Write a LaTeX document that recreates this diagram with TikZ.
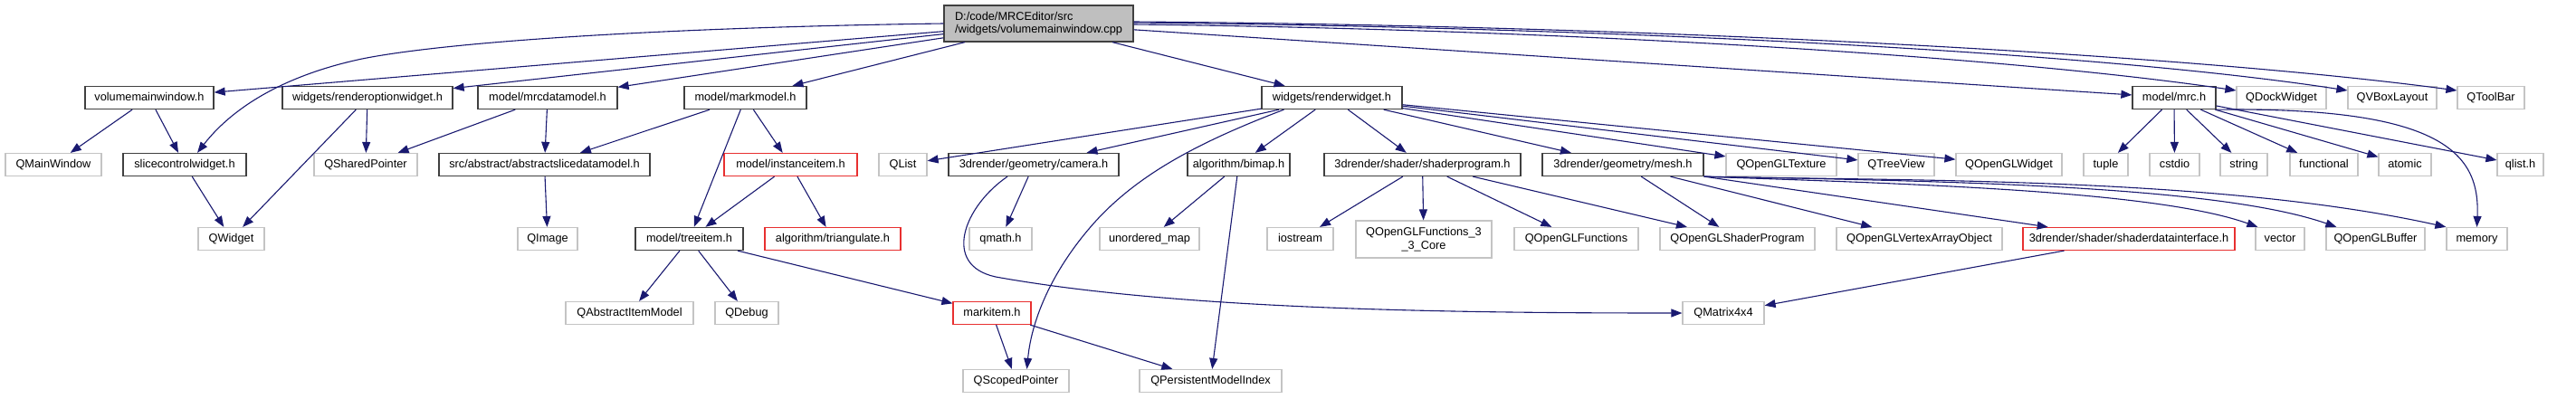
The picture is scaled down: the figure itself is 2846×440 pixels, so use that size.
\documentclass[tikz,border=0pt]{standalone}
\usepackage{fontspec}
\setmainfont{Liberation Sans}
\usetikzlibrary{arrows.meta}
\definecolor{edgec}{HTML}{191970}
\definecolor{extc}{HTML}{C4C4C4}
\definecolor{docc}{HTML}{404040}
\definecolor{redc}{HTML}{E83030}
\definecolor{mainfill}{HTML}{BFBFBF}
\begin{document}
\begin{tikzpicture}[x=1pt,y=-1pt,
  every node/.style={font=\fontsize{12.75}{14.5}\selectfont, inner sep=0pt, minimum height=25pt, text height=9.5pt, text depth=3pt},
  doc/.style={draw=docc, line width=1.3pt, fill=white},
  ext/.style={draw=extc, line width=1.2pt, fill=white},
  inc/.style={draw=redc, line width=1.2pt, fill=white},
  dep/.style={draw=edgec, line width=1.1pt, -{Triangle[length=12pt,width=9pt]}},
]
\useasboundingbox (0,0) rectangle (2846,440);
% main
\node[doc, fill=mainfill, minimum width=209pt, minimum height=40pt, align=left, text height=, text depth=] (main) at (1147.5,26) {D:/code/MRCEditor/src\\/widgets/volumemainwindow.cpp};
% row 1
\node[doc, minimum width=142pt] (volmw) at (165,108) {volumemainwindow.h};
\node[doc, minimum width=188pt] (ropt) at (406,108) {widgets/renderoptionwidget.h};
\node[doc, minimum width=154pt] (mrcdm) at (605,108) {model/mrcdatamodel.h};
\node[doc, minimum width=135pt] (markm) at (823.5,108) {model/markmodel.h};
\node[doc, minimum width=155pt] (rw) at (1471.5,108) {widgets/renderwidget.h};
\node[doc, minimum width=92pt] (mrc) at (2402,108) {model/mrc.h};
\node[ext, minimum width=99pt] (dock) at (2520.5,108) {QDockWidget};
\node[ext, minimum width=98pt] (vbox) at (2643,108) {QVBoxLayout};
\node[ext, minimum width=74pt] (tbar) at (2752,108) {QToolBar};
% row 2
\node[ext, minimum width=106pt] (qmw) at (59,182) {QMainWindow};
\node[doc, minimum width=136pt] (slice) at (204,182) {slicecontrolwidget.h};
\node[ext, minimum width=114pt] (qshp) at (404,182) {QSharedPointer};
\node[doc, minimum width=233pt] (abss) at (601.5,182) {src/abstract/abstractslicedatamodel.h};
\node[inc, minimum width=147pt] (inst) at (873.5,182) {model/instanceitem.h};
\node[ext, minimum width=53pt] (qlist) at (997.5,182) {QList};
\node[doc, minimum width=188pt] (cam) at (1142,182) {3drender/geometry/camera.h};
\node[doc, minimum width=113pt] (bimap) at (1368.5,182) {algorithm/bimap.h};
\node[doc, minimum width=217pt] (shp) at (1571.5,182) {3drender/shader/shaderprogram.h};
\node[doc, minimum width=178pt] (mesh) at (1793,182) {3drender/geometry/mesh.h};
\node[ext, minimum width=122pt] (tex) at (1968,182) {QOpenGLTexture};
\node[ext, minimum width=84pt] (tview) at (2095,182) {QTreeView};
\node[ext, minimum width=117pt] (glw) at (2219.5,182) {QOpenGLWidget};
\node[ext, minimum width=49pt] (tuple) at (2326.5,182) {tuple};
\node[ext, minimum width=55pt] (cstdio) at (2402.5,182) {cstdio};
\node[ext, minimum width=52pt] (string) at (2479,182) {string};
\node[ext, minimum width=75pt] (functional) at (2567.5,182) {functional};
\node[ext, minimum width=58pt] (atomic) at (2657,182) {atomic};
\node[ext, minimum width=51pt] (qlisth) at (2784.5,182) {qlist.h};
% row 3
\node[ext, minimum width=73pt] (qwidget) at (255.5,264) {QWidget};
\node[ext, minimum width=66pt] (qimage) at (605,264) {QImage};
\node[doc, minimum width=119pt] (tree) at (761.5,264) {model/treeitem.h};
\node[inc, minimum width=150pt] (tri) at (920,264) {algorithm/triangulate.h};
\node[ext, minimum width=69pt] (qmath) at (1105.5,264) {qmath.h};
\node[ext, minimum width=110pt] (umap) at (1270,264) {unordered\_map};
\node[ext, minimum width=73pt] (iostream) at (1436.5,264) {iostream};
\node[ext, minimum width=150pt, minimum height=41pt, align=center, text height=, text depth=] (core) at (1573,264.5) {QOpenGLFunctions\_3\\\_3\_Core};
\node[ext, minimum width=137pt] (glf) at (1741.5,264) {QOpenGLFunctions};
\node[ext, minimum width=171pt] (glsp) at (1919.5,264) {QOpenGLShaderProgram};
\node[ext, minimum width=183pt] (vao) at (2120.5,264) {QOpenGLVertexArrayObject};
\node[inc, minimum width=234pt] (sdi) at (2352,264) {3drender/shader/shaderdatainterface.h};
\node[ext, minimum width=54pt] (vector) at (2519,264) {vector};
\node[ext, minimum width=109pt] (glbuf) at (2624.5,264) {QOpenGLBuffer};
\node[ext, minimum width=67pt] (memory) at (2736.5,264) {memory};
% row 4
\node[ext, minimum width=141pt] (qaim) at (695.5,346) {QAbstractItemModel};
\node[ext, minimum width=70pt] (qdebug) at (825,346) {QDebug};
\node[inc, minimum width=86pt] (markitem) at (1096,346) {markitem.h};
\node[ext, minimum width=90pt] (mat) at (1904,346) {QMatrix4x4};
% row 5
\node[ext, minimum width=117pt] (qsp) at (1122.5,421) {QScopedPointer};
\node[ext, minimum width=157pt] (qpmi) at (1337.5,421) {QPersistentModelIndex};
% straight edges
\foreach \a/\b in {main/volmw, main/ropt, main/mrcdm, main/markm, main/rw, main/mrc,
  volmw/qmw, volmw/slice, ropt/qshp, ropt/qwidget, mrcdm/qshp, mrcdm/abss,
  markm/abss, markm/tree, markm/inst, slice/qwidget, abss/qimage,
  inst/tree, inst/tri, tree/qaim, tree/qdebug, tree/markitem,
  markitem/qsp, markitem/qpmi,
  rw/qlist, rw/cam, rw/bimap, rw/shp, rw/mesh, rw/tex, rw/tview, rw/glw,
  cam/qmath, bimap/umap, bimap/qpmi,
  shp/iostream, shp/core, shp/glf, shp/glsp,
  mesh/glsp, mesh/vao, mesh/sdi, sdi/mat,
  mrc/tuple, mrc/cstdio, mrc/string, mrc/functional, mrc/atomic, mrc/qlisth}
  \draw[dep] (\a) -- (\b);
% curved edges
\draw[dep] (main.west) .. controls (750,30) and (500,45) .. (400,65) .. controls (320,82) and (260,115) .. ([xshift=14pt]slice.north);
\draw[dep] ([yshift=-1pt]main.east) .. controls (1700,32) and (2200,60) .. ([yshift=8pt]dock.west);
\draw[dep] ([yshift=1pt]main.east) .. controls (1750,30) and (2300,55) .. ([yshift=8pt]vbox.west);
\draw[dep] ([yshift=2pt]main.east) .. controls (1800,28) and (2400,58) .. ([yshift=8pt]tbar.west);
\draw[dep] (mesh.south east) .. controls (2100,203) and (2380,210) .. ([xshift=3pt]vector.north west);
\draw[dep] (mesh.south east) .. controls (2150,200) and (2450,205) .. ([xshift=12pt]glbuf.north west);
\draw[dep] (mesh.south east) .. controls (2100,200) and (2450,195) .. (memory.north west);
\draw[dep] (mrc.south east) .. controls (2700,118) and (2740,170) .. (memory.north);
\draw[dep] ([xshift=-29pt]cam.south) .. controls (1065,228) and (1040,293) .. (1100,306) .. controls (1300,342) and (1600,346) .. (mat.west);
\draw[dep] ([xshift=-53pt]rw.south) .. controls (1330,155) and (1260,190) .. (1210,245) .. controls (1165,295) and (1140,350) .. ([xshift=12pt]qsp.north);
\end{tikzpicture}
\end{document}
